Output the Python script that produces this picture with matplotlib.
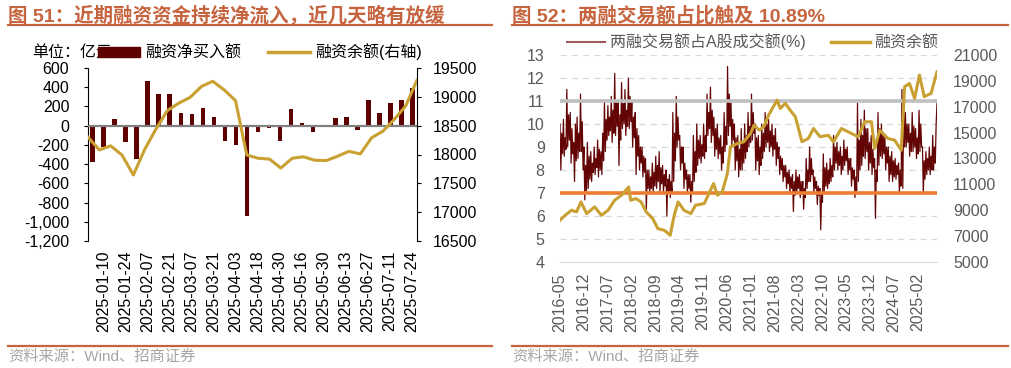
import numpy as np
import pandas as pd
import matplotlib
matplotlib.use("Agg")
import matplotlib.pyplot as plt
from matplotlib.lines import Line2D
from matplotlib.patches import Patch
from matplotlib.ticker import FuncFormatter
import matplotlib.dates as mdates

plt.rcParams["font.family"] = ["Liberation Sans", "Noto Sans CJK SC"]
plt.rcParams["axes.unicode_minus"] = False

# ---- left panel: weekly net financing buy (bars) and financing balance (line)
weeks = [
    "2025-01-03", "2025-01-10", "2025-01-17", "2025-01-24", "2025-01-27",
    "2025-02-07", "2025-02-14", "2025-02-21", "2025-02-28", "2025-03-07",
    "2025-03-14", "2025-03-21", "2025-03-28", "2025-04-03", "2025-04-11",
    "2025-04-18", "2025-04-25", "2025-04-30", "2025-05-09", "2025-05-16",
    "2025-05-23", "2025-05-30", "2025-06-06", "2025-06-13", "2025-06-20",
    "2025-06-27", "2025-07-04", "2025-07-11", "2025-07-18", "2025-07-24",
]
net_buy = [-375, -220, 73, -167, -348, 460, 327, 327, 129, 125,
           188, 90, -157, -205, -944, -63, -24, -164, 171, 28,
           -63, -14, 77, 87, -42, 268, 132, 233, 268, 397]
balance = [18300, 18080, 18150, 17990, 17645, 18090, 18445, 18763, 18890, 18990,
           19180, 19270, 19120, 18935, 17990, 17935, 17920, 17765, 17935, 17960,
           17900, 17895, 17970, 18055, 18010, 18290, 18405, 18610, 18840, 19290]

# ---- right panel: margin trading share of A-share turnover (%), roughly weekly readings
ratio = [
    # 2016-05 .. 2016-12
    10.0, 8.0, 9.6, 8.7, 10.2, 8.6, 9.4, 8.9, 11.5, 9.0, 10.4, 9.3, 10.5, 8.3, 9.8, 8.7,
    9.2, 7.5, 10.0, 8.4, 10.3, 8.5, 9.6, 8.8, 11.3, 8.8, 10.1, 8.0, 9.0, 6.7, 8.2, 7.1,
    # 2017
    9.2, 7.2, 8.6, 7.6, 8.8, 7.5, 8.3, 7.9, 9.0, 7.8, 8.5, 8.1, 9.3, 7.7, 8.9, 8.0,
    8.8, 7.8, 9.6, 8.4, 11.0, 8.8, 10.2, 9.3, 10.8, 9.5, 10.3, 9.7, 11.2, 9.2, 10.6, 9.6,
    12.2, 9.5, 11.0, 9.9, 11.0, 8.2, 10.4, 9.3, 11.8, 9.8, 10.9, 10.0, 11.5, 9.5, 10.6, 9.9,
    # 2018
    12.0, 9.8, 11.2, 10.1, 11.0, 9.0, 10.3, 9.4, 10.5, 7.8, 9.8, 8.6, 9.5, 8.0, 9.0, 8.3,
    9.0, 7.7, 8.6, 7.9, 8.5, 6.3, 8.0, 7.2, 8.0, 7.0, 7.7, 7.2, 8.3, 7.0, 7.9, 7.3,
    8.6, 7.2, 8.2, 7.5, 8.8, 7.0, 8.1, 7.4, 8.2, 7.0, 7.8, 7.3, 8.0, 6.0, 7.6, 7.0,
    # 2019
    7.8, 6.8, 7.5, 7.0, 10.5, 7.5, 9.6, 8.4, 11.2, 9.0, 10.3, 9.3, 9.5, 8.0, 9.0, 8.3,
    9.0, 7.2, 8.3, 7.6, 8.0, 7.0, 7.8, 7.2, 7.8, 6.6, 7.5, 7.0, 9.5, 7.5, 8.8, 7.9,
    10.0, 8.2, 9.3, 8.5, 9.5, 8.3, 9.1, 8.6, 10.0, 8.5, 9.5, 8.8, 11.3, 9.5, 10.5, 9.8,
    # 2020
    11.6, 9.2, 10.6, 9.5, 10.3, 8.6, 9.8, 8.9, 10.0, 8.5, 9.4, 8.7, 9.5, 8.0, 9.0, 8.3,
    10.5, 8.8, 9.9, 9.1, 12.5, 9.5, 11.3, 9.9, 11.0, 9.0, 10.2, 9.3, 10.0, 8.0, 9.4, 8.4,
    9.5, 7.7, 8.9, 8.0, 9.8, 8.0, 9.2, 8.3, 10.0, 8.5, 9.5, 8.8, 10.5, 9.0, 9.9, 9.2,
    # 2021
    11.3, 9.3, 10.5, 9.6, 10.0, 8.0, 9.4, 8.4, 9.5, 7.8, 9.0, 8.2, 10.0, 8.5, 9.6, 8.8,
    10.5, 9.0, 10.0, 9.2, 10.2, 8.8, 9.7, 9.0, 10.0, 8.6, 9.5, 8.9, 9.8, 8.2, 9.2, 8.5,
    9.0, 7.8, 8.6, 8.0, 8.5, 7.5, 8.2, 7.7, 8.2, 7.2, 7.9, 7.4, 8.0, 7.0, 7.7, 7.2,
    # 2022
    7.8, 6.2, 7.5, 6.9, 8.0, 7.0, 7.7, 7.2, 7.8, 6.8, 7.5, 7.0, 7.5, 6.3, 7.2, 6.8,
    8.5, 7.2, 8.0, 7.5, 9.0, 7.5, 8.5, 7.8, 8.0, 7.0, 7.7, 7.2, 7.5, 6.5, 7.3, 6.9,
    7.2, 5.4, 7.0, 6.6, 8.7, 7.0, 8.1, 7.3, 8.3, 7.2, 8.0, 7.4, 8.5, 7.5, 8.2, 7.7,
    # 2023
    9.5, 8.0, 9.0, 8.3, 9.2, 8.0, 8.8, 8.2, 9.0, 7.8, 8.6, 8.0, 9.3, 8.2, 8.9, 8.4,
    9.0, 7.8, 8.5, 8.0, 8.5, 7.3, 8.1, 7.6, 8.0, 6.8, 7.7, 7.1, 10.9, 7.5, 9.3, 8.0,
    10.2, 8.2, 9.5, 8.6, 10.6, 8.5, 9.8, 8.8, 9.8, 8.0, 9.2, 8.3, 9.5, 7.8, 8.9, 8.1,
    # 2024
    8.5, 5.9, 8.0, 7.5, 10.5, 8.2, 9.8, 8.6, 10.0, 8.5, 9.5, 8.7, 9.5, 8.0, 9.0, 8.3,
    9.0, 7.5, 8.6, 7.8, 8.8, 7.5, 8.4, 7.7, 8.5, 7.6, 8.2, 7.8, 8.3, 7.0, 8.0, 7.3,
    11.5, 7.2, 10.8, 9.0, 10.5, 9.0, 10.0, 9.2, 10.0, 8.6, 9.6, 8.8, 10.5, 8.8, 9.9, 9.0,
    # 2025-01 .. 2025-07
    9.8, 8.5, 9.4, 8.7, 10.6, 8.8, 10.0, 9.0, 9.0, 7.0, 8.4, 7.6, 8.8, 7.8, 8.5, 8.0,
    9.0, 7.8, 8.6, 8.0, 9.5, 8.0, 9.0, 8.3, 10.0, 10.9,
]
gold_dates = [
    "2016-05-01", "2016-06-15", "2016-08-12", "2016-09-26", "2016-11-04", "2016-12-25",
    "2017-03-06", "2017-05-06", "2017-07-04", "2017-09-01", "2017-11-01", "2018-01-04",
    "2018-01-22", "2018-03-10", "2018-04-25", "2018-06-10", "2018-08-07", "2018-09-22",
    "2018-11-19", "2019-01-10", "2019-02-15", "2019-03-22", "2019-05-13", "2019-07-13",
    "2019-08-25", "2019-11-10", "2019-12-22", "2020-02-01", "2020-03-07", "2020-04-19",
    "2020-06-04", "2020-07-01", "2020-09-01", "2020-10-28", "2020-12-28", "2021-01-28",
    "2021-03-16", "2021-04-25", "2021-06-07", "2021-08-22", "2021-09-19", "2021-11-04",
    "2021-12-16", "2022-02-01", "2022-04-01", "2022-05-28", "2022-07-13", "2022-09-10",
    "2022-11-22", "2023-01-07", "2023-03-19", "2023-05-19", "2023-08-16", "2023-10-13",
    "2023-12-13", "2024-01-10", "2024-02-25", "2024-05-07", "2024-07-07", "2024-09-04",
    "2024-10-04", "2024-11-16", "2025-01-01", "2025-02-13", "2025-03-28", "2025-05-28",
    "2025-07-20",
]
gold_vals = [
    8230, 8610, 9000, 8870, 9645, 8740,
    9260, 8610, 9000, 9775, 10160, 10800,
    9775, 9900, 9645, 8870, 8355, 7580,
    7450, 7065, 8610, 9645, 9000, 8740,
    9390, 9520, 10290, 11065, 10160, 10420,
    11840, 13900, 14160, 14290, 14935, 15580,
    15190, 15450, 16350, 17515, 16870, 17260,
    16740, 16225, 14290, 14550, 15320, 14680,
    14800, 14290, 15320, 15060, 14680, 15840,
    15840, 13770, 15190, 14550, 14420, 13640,
    18550, 18800, 17650, 19450, 17780, 18030,
    19710,
]
ratio_ticks = pd.date_range("2016-05-01", "2025-02-01", freq="7MS")

title_color = "#C6643F"
bar_color = "#5E0000"
gold = "#C9A032"
grey_txt = "#595959"
W, H = 1011, 368

fig = plt.figure(figsize=(W / 100, H / 100), dpi=100)


def fx(px):
    return px / W


def fy(py):
    return 1 - py / H


# headers / footers
for x0, x1, title in [(8, 492, "图 51：近期融资资金持续净流入，近几天略有放缓"),
                      (512, 1008, "图 52：两融交易额占比触及 10.89%")]:
    fig.text(fx(x0), fy(16), title, color=title_color, fontsize=14,
             fontweight="bold", va="center", ha="left")
    fig.add_artist(Line2D([fx(x0), fx(x1)], [fy(25), fy(25)], color=title_color,
                          lw=1.6, transform=fig.transFigure))
    fig.add_artist(Line2D([fx(x0), fx(x1)], [fy(346), fy(346)], color=title_color,
                          lw=1.6, transform=fig.transFigure))
    fig.text(fx(x0), fy(357), "资料来源：Wind、招商证券", color="#A6A6A6",
             fontsize=11, va="center", ha="left")

# ---------------- left panel
ax = fig.add_axes([fx(88), fy(241), fx(417 - 88), (241 - 68) / H])
xi = np.arange(len(weeks))
ax.bar(xi, net_buy, width=0.45, color=bar_color, zorder=2)
ax.axhline(0, color="#808080", lw=1.6, zorder=3)
ax.set_xlim(-0.45, len(weeks) - 0.55)
ax.set_ylim(-1200, 600)
ax.set_yticks(range(-1200, 601, 200))
ax.yaxis.set_major_formatter(FuncFormatter(lambda v, p: f"{v:,.0f}"))
ax.set_xticks(xi[1::2])
ax.set_xticklabels(weeks[1::2], rotation=90)
ax.tick_params(axis="x", length=0, pad=7, labelsize=11.5)
ax.tick_params(axis="y", length=3, labelsize=11.5, pad=10.5)
for s in ["top", "bottom", "right"]:
    ax.spines[s].set_visible(False)
ax.patch.set_visible(False)

ax2 = ax.twinx()
ax2.set_ylim(16500, 19500)
ax2.set_yticks(range(16500, 19501, 500))
ax2.tick_params(axis="y", length=3, labelsize=11.5, pad=8.5)
for s in ["top", "bottom", "left"]:
    ax2.spines[s].set_visible(False)
# balance line runs edge to edge on its own horizontal scale
axl = ax2.twiny()
axl.plot(np.arange(len(balance)), balance, color=gold, lw=2.2, zorder=4)
axl.set_xlim(0, len(balance) - 1)
axl.set_xticks([])
for s in axl.spines.values():
    s.set_visible(False)

fig.text(fx(32), fy(52), "单位：亿元", fontsize=11.5, va="center", ha="left")
fig.legend([Patch(color=bar_color), Line2D([], [], color=gold, lw=2.5)],
           ["融资净买入额", "融资余额(右轴)"], ncol=2, loc="center left",
           bbox_to_anchor=(fx(98), fy(52)), frameon=False, fontsize=11.5,
           borderpad=0, borderaxespad=0, handlelength=2.6, handleheight=0.55,
           handletextpad=0.35, columnspacing=1.7)

# ---------------- right panel
ax3 = fig.add_axes([fx(560), fy(262), fx(937 - 560), (262 - 55) / H])
rdates = pd.date_range("2016-05-01", "2025-07-20", periods=len(ratio))
ax3.plot(rdates, ratio, color="#640505", lw=0.9, zorder=2)
ax3.axhline(11, color="#BFBFBF", lw=2.6, zorder=3)
ax3.axhline(7, color="#ED7D31", lw=2.6, zorder=3)
ax3.set_ylim(4, 13)
ax3.set_yticks(range(4, 14))
ax3.set_xlim(rdates[0], rdates[-1])
ax3.set_xticks(ratio_ticks)
ax3.xaxis.set_major_formatter(mdates.DateFormatter("%Y-%m"))
for lab in ax3.get_xticklabels():
    lab.set_rotation(90)
ax3.yaxis.grid(True, color="#D9D9D9", lw=0.9, ls=(0, (5, 4)), zorder=0)
for s in ["top", "left", "right"]:
    ax3.spines[s].set_visible(False)
ax3.spines["bottom"].set_color("#D9D9D9")
ax3.tick_params(axis="both", length=0, labelsize=11.5, colors=grey_txt)
ax3.tick_params(axis="x", pad=8)
ax3.tick_params(axis="y", pad=11)

ax4 = ax3.twinx()
ax4.plot(pd.to_datetime(gold_dates), gold_vals, color=gold, lw=2.2, zorder=4)
ax4.set_ylim(5000, 21000)
ax4.set_yticks(range(5000, 21001, 2000))
ax4.tick_params(axis="y", length=0, labelsize=11.5, colors=grey_txt, pad=11.5)
for s in ax4.spines.values():
    s.set_visible(False)

leg = fig.legend([Line2D([], [], color="#A05A5A", lw=1.5), Line2D([], [], color=gold, lw=2.5)],
                 ["两融交易额占A股成交额(%)", "融资余额"], ncol=2, loc="center left",
                 bbox_to_anchor=(fx(567), fy(42)), frameon=False, fontsize=11.5,
                 borderpad=0, borderaxespad=0, handlelength=2.4,
                 handletextpad=0.3, columnspacing=1.6)
for t in leg.get_texts():
    t.set_color(grey_txt)

fig.savefig("out.png", dpi=100)
